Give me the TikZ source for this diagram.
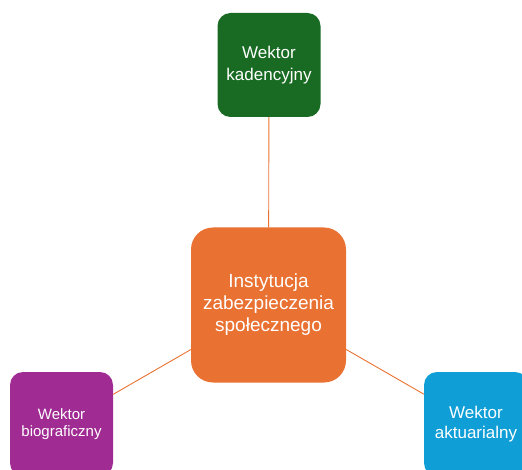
\documentclass[tikz,border=0pt]{standalone}
\usepackage{fontspec}
\setmainfont{Liberation Sans}
\usepackage{xcolor}
\usetikzlibrary{positioning}
\definecolor{hubOrange}{HTML}{E97132}
\definecolor{vecGreen}{HTML}{196B24}
\definecolor{vecPurple}{HTML}{A02B93}
\definecolor{vecBlue}{HTML}{0F9ED5}

\begin{document}
\begin{tikzpicture}[x=1pt,y=-1pt,
    vecbox/.style={rounded corners=13pt, minimum width=103pt, minimum height=104pt,
      align=center, text=white, inner sep=0pt},
    link/.style={hubOrange, line width=0.9pt}]
  \useasboundingbox (0,0) rectangle (522,470);
  \clip (0,0) rectangle (522,470);
  % hub and the three vectors
  \node[fill=hubOrange, rounded corners=22pt, minimum width=155pt, minimum height=155pt,
    align=center, text=white, inner sep=0pt,
    font=\fontsize{19}{22}\selectfont] (hub) at (268.5,305) {Instytucja\\zabezpieczenia\\społecznego};
  \node[vecbox, fill=vecGreen, font=\fontsize{17}{22}\selectfont] (kad) at (269,65) {Wektor\\kadencyjny};
  \node[vecbox, fill=vecPurple, font=\fontsize{15}{17}\selectfont] (bio) at (61.5,424) {Wektor\\biograficzny};
  \node[vecbox, fill=vecBlue, minimum width=104pt, font=\fontsize{17}{20}\selectfont] (akt) at (476,424) {Wektor\\aktuarialny};
  % connectors
  \draw[link] (hub) -- (kad);
  \draw[link] (hub) -- (bio);
  \draw[link] (hub) -- (akt);
\end{tikzpicture}
\end{document}
